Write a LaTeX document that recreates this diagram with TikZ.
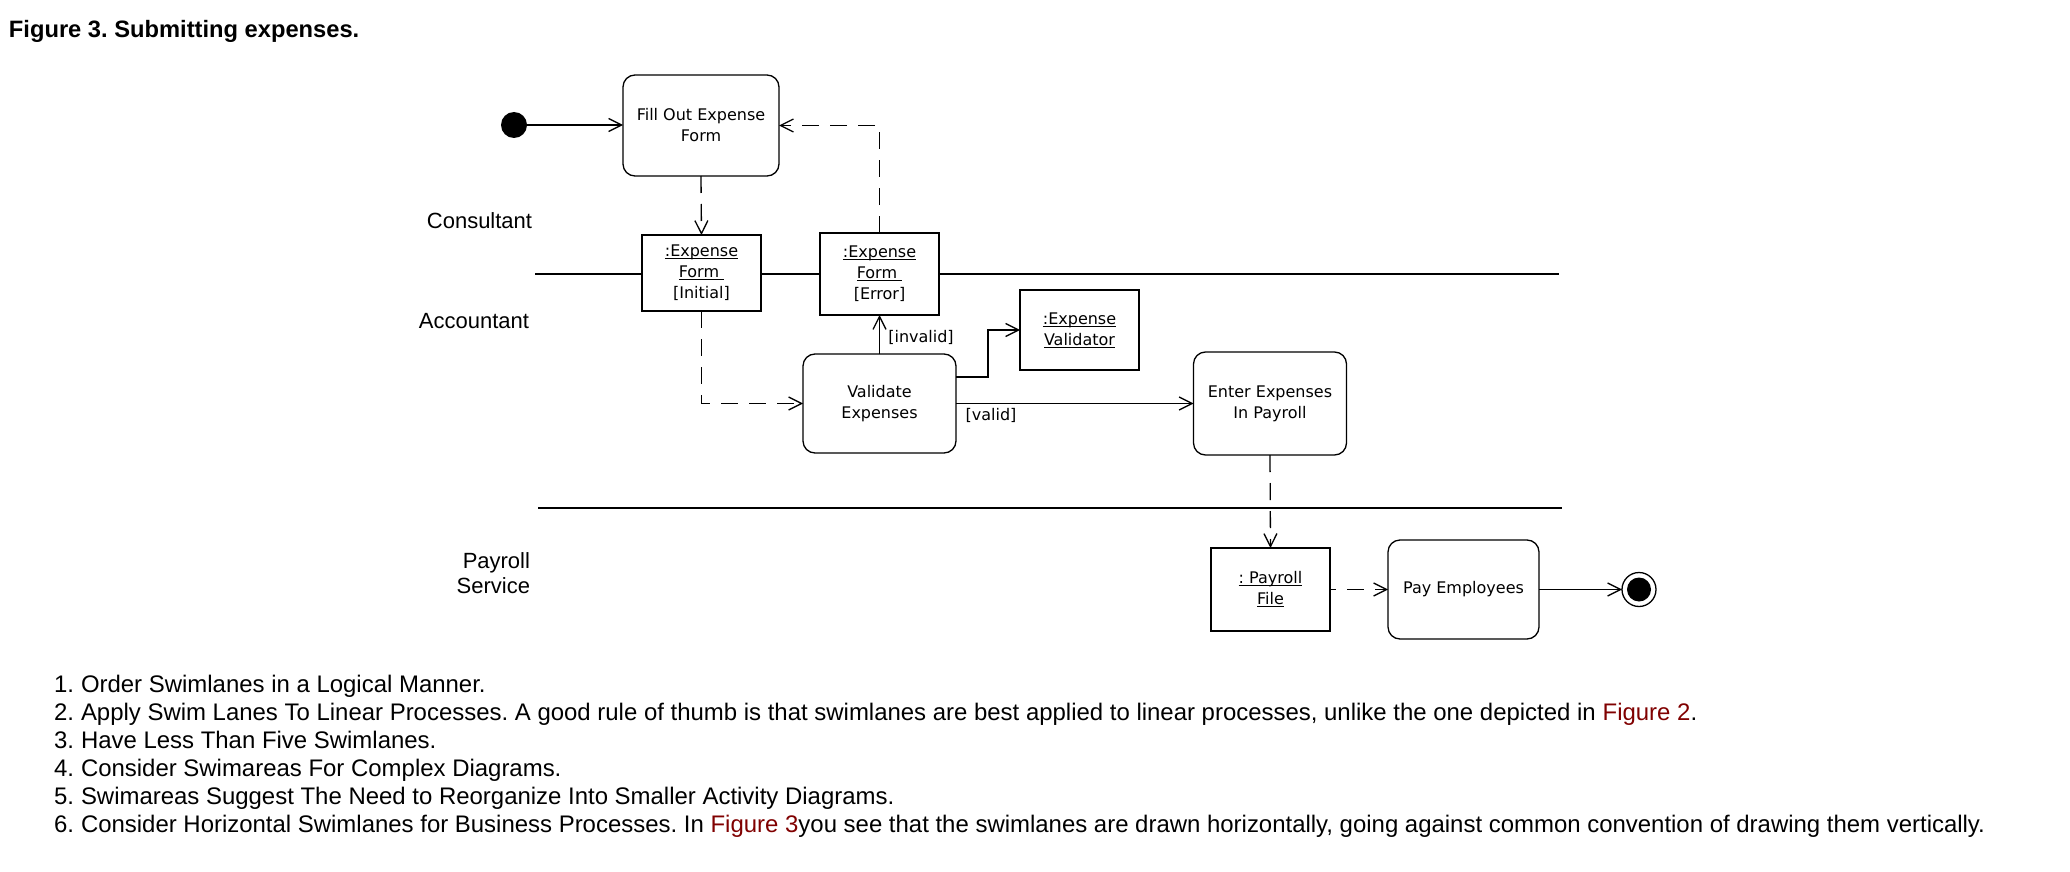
\documentclass[tikz,border=0pt]{standalone}
\usepackage{fontspec}
\setmainfont{Liberation Sans}
\newfontfamily\diagfont{DejaVu Sans}
\usetikzlibrary{arrows.meta}
\definecolor{linkred}{RGB}{128,0,0}
\newcommand{\ulx}[1]{\setbox0\hbox{#1}\rlap{\rule[-2.5pt]{\wd0}{0.9pt}}\box0}
\frenchspacing
\begin{document}
\begin{tikzpicture}[x=1pt,y=-1pt,
  every node/.style={inner sep=0pt,outer sep=0pt},
  ln/.style={line width=1.3pt},
  tipx/.style={-{Straight Barb[length=13pt,width=13pt]}},
  arr/.style={ln,tipx},
  darr/.style={ln,tipx,dash pattern=on 17pt off 11pt},
  dfont/.style={font=\diagfont\fontsize{16}{21}\selectfont},
  activity/.style={draw,ln,rounded corners=12pt,align=center,dfont},
  objbox/.style={draw,ln,align=center,dfont},
  lanelabel/.style={font=\fontsize{22}{25}\selectfont,align=right},
  listfont/.style={font=\fontsize{23.95}{28}\selectfont}]
\useasboundingbox (0,0) rectangle (2070,872);
% title
\node[anchor=base west,font=\bfseries\fontsize{23.7}{28}\selectfont] (title) at (9,38) {Figure 3. Submitting expenses.};
% swimlane separators
\coordinate (l1a) at (535,274); \coordinate (l1b) at (1559,274);
\coordinate (l2a) at (538,508); \coordinate (l2b) at (1562,508);
\draw[ln] (l1a) -- (l1b);
\draw[ln] (l2a) -- (l2b);
% lane labels
\node[lanelabel,anchor=base] (consultant) at (479.5,228) {Consultant};
\node[lanelabel,anchor=base] (accountant) at (474,328) {Accountant};
\node[lanelabel,anchor=base east] (payroll) at (530,568) {Payroll};
\node[lanelabel,anchor=base east] (service) at (530,593) {Service};
% nodes
\node[circle,fill=black,minimum size=26pt] (start) at (514,125) {};
\node[activity,minimum width=156pt,minimum height=101pt] (fill) at (701,125.5) {Fill Out Expense\\Form};
\node[objbox,fill=white,minimum width=119pt,minimum height=76pt] (init) at (701.5,273) {\ulx{:Expense}\\\ulx{Form\ }\\{[Initial]}};
\node[objbox,fill=white,minimum width=119pt,minimum height=82pt] (err) at (879.5,274) {\ulx{:Expense}\\\ulx{Form\ }\\{[Error]}};
\node[objbox,minimum width=119pt,minimum height=80pt] (valr) at (1079.5,330) {\ulx{:Expense}\\\ulx{Validator}};
\node[activity,minimum width=153pt,minimum height=99pt] (vald) at (879.5,403.5) {Validate\\Expenses};
\node[activity,minimum width=153pt,minimum height=103pt] (enter) at (1270,403.5) {Enter Expenses\\In Payroll};
\node[objbox,fill=white,minimum width=119pt,minimum height=83pt] (pfile) at (1270.5,589.5) {\ulx{: Payroll}\\\ulx{File}};
\node[activity,minimum width=151pt,minimum height=99pt] (pay) at (1463.5,589.5) {Pay Employees};
\node[circle,draw,ln,minimum size=34pt] (end) at (1639,589.5) {};
\node[circle,fill=black,minimum size=24pt] (endin) at (1639,589.5) {};
% connectors
\draw[arr] (start) -- (start -| fill.west);
\draw[darr] (fill.south) -- (init.north);
\draw[darr] (err.north) |- (fill.east);
\draw[darr] (init.south) |- (vald.west);
\draw[arr] (vald.north) -- (err.south);
\coordinate (bend) at (988,377);
\draw[arr] (vald.east |- bend) -- (bend) |- (valr.west);
\draw[arr] (vald.east) -- (enter.west);
\draw[darr] (enter.south) -- (pfile.north);
\draw[darr,dash phase=11pt] (pfile.east) -- (pay.west);
\draw[arr] (pay.east) -- (end.west);
% guard labels
\node[dfont] (invalid) at (921,337) {[invalid]};
\node[dfont] (valid) at (991,415) {[valid]};
% list
\foreach \n/\yy in {1/692,2/720,3/748,4/776,5/804,6/832}
  \node[listfont,anchor=base east] (num\n) at (74,\yy) {\n.};
\node[listfont,anchor=base west] (item1) at (81,692) {Order Swimlanes in a Logical Manner.};
\node[listfont,anchor=base west] (item2) at (81,720) {Apply Swim Lanes To Linear Processes. A good rule of thumb is that swimlanes are best applied to linear processes, unlike the one depicted in \textcolor{linkred}{Figure 2}\textcolor{black}{.}};
\node[listfont,anchor=base west] (item3) at (81,748) {Have Less Than Five Swimlanes.};
\node[listfont,anchor=base west] (item4) at (81,776) {Consider Swimareas For Complex Diagrams.};
\node[listfont,anchor=base west] (item5) at (81,804) {Swimareas Suggest The Need to Reorganize Into Smaller Activity Diagrams.};
\node[listfont,anchor=base west] (item6) at (81,832) {Consider Horizontal Swimlanes for Business Processes. In \textcolor{linkred}{Figure 3}you see that the swimlanes are drawn horizontally, going against common convention of drawing them vertically.};
\end{tikzpicture}
\end{document}
